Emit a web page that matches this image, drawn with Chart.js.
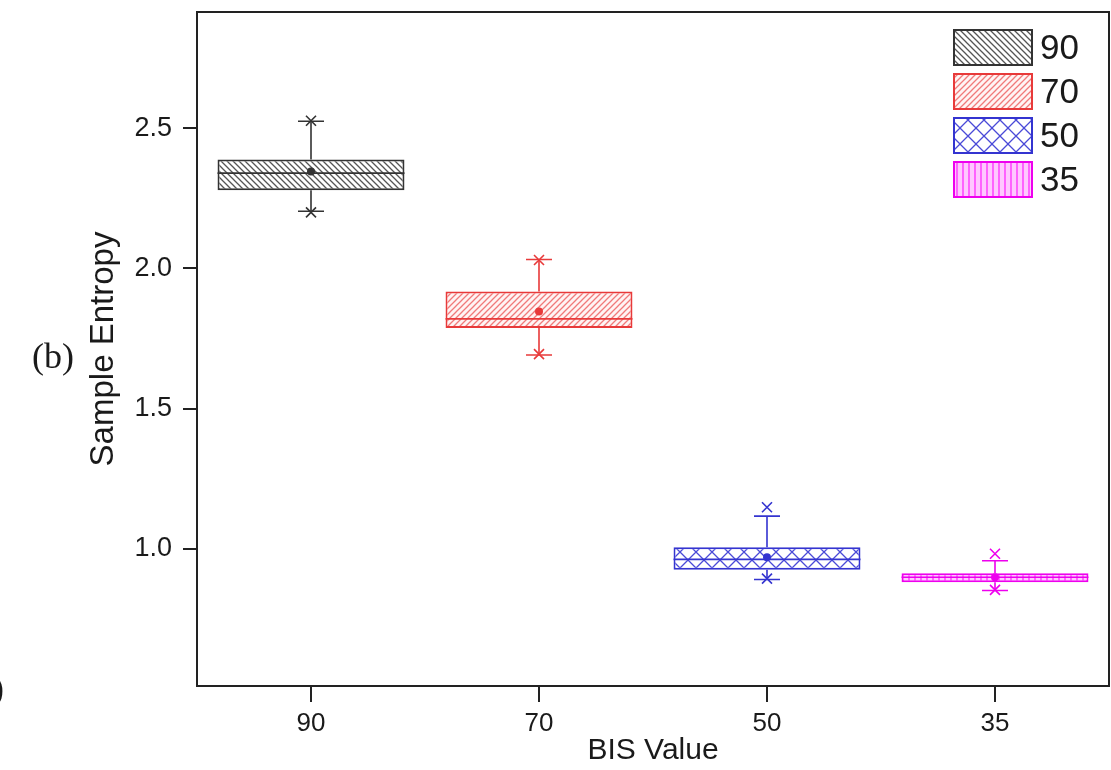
<!DOCTYPE html>
<html>
<head>
<meta charset="utf-8">
<script src="https://cdn.jsdelivr.net/npm/chart.js@4.4.1/dist/chart.umd.min.js"></script>
<style>
  html, body { margin: 0; padding: 0; background: #fff; }
  #wrap { width: 1111px; height: 770px; position: relative; }
</style>
</head>
<body>
<div id="wrap"><canvas id="boxChart" width="1111" height="770"></canvas></div>
<script>
// BIS groups
const categories = ['90', '70', '50', '35'];
// box statistics
const q1 = [2.279, 1.787, 0.925, 0.880];
const q3 = [2.389, 1.918, 1.005, 0.912];
const medians = [2.340, 1.820, 0.962, 0.898];
const means = [2.346, 1.846, 0.969, 0.898];
const whiskerLow = [2.204, 1.691, 0.890, 0.851];
const whiskerHigh = [2.525, 2.032, 1.116, 0.957];
const minMarks = [2.200, 1.694, 0.893, 0.853];
const maxMarks = [2.527, 2.030, 1.148, 0.982];
const yTicks = [1.0, 1.5, 2.0, 2.5];

const lineColors = ['#333333', '#e83a3a', '#3434d0', '#ee00ee'];
const hatchColors = ['#555555', '#f07a7a', '#4a4ad8', '#ff2cff'];
const hatchBg = ['#ffffff', '#fff4f4', '#ffffff', '#ffc8ff'];
const hatchKinds = ['back', 'fwd', 'cross', 'vert'];
const sansFont = 'Arial, "Liberation Sans", sans-serif';

// hatch fill patterns
function makePattern(kind, color, bg) {
  const s = kind === 'cross' ? 16 : 6;
  const c = document.createElement('canvas');
  c.width = s; c.height = s;
  const g = c.getContext('2d');
  g.fillStyle = bg;
  g.fillRect(0, 0, s, s);
  g.strokeStyle = color;
  g.lineWidth = 1.3;
  g.beginPath();
  if (kind === 'back' || kind === 'cross') {
    g.moveTo(-1, -1); g.lineTo(s + 1, s + 1);
    g.moveTo(-1, s - 1); g.lineTo(1, s + 1);
    g.moveTo(s - 1, -1); g.lineTo(s + 1, 1);
  }
  if (kind === 'fwd' || kind === 'cross') {
    g.moveTo(-1, s + 1); g.lineTo(s + 1, -1);
    g.moveTo(-1, 1); g.lineTo(1, -1);
    g.moveTo(s - 1, s + 1); g.lineTo(s + 1, s - 1);
  }
  if (kind === 'vert') {
    g.moveTo(s / 2, 0); g.lineTo(s / 2, s);
  }
  g.stroke();
  return g.createPattern(c, 'repeat');
}
const patterns = hatchKinds.map((k, i) => makePattern(k, hatchColors[i], hatchBg[i]));

const datasets = categories.map((cat, i) => ({
  label: cat,
  data: categories.map((c, j) => j === i ? [q1[i], q3[i]] : null),
  backgroundColor: patterns[i],
  borderColor: lineColors[i],
  borderWidth: 2,
  borderSkipped: false,
  barPercentage: 0.82,
  categoryPercentage: 1.0,
  grouped: false
}));

// whiskers, median lines, mean dots, extreme markers, frame, legend
const boxExtras = {
  id: 'boxExtras',
  afterDatasetsDraw(chart) {
    const ctx = chart.ctx;
    const xs = chart.scales.x;
    const ys = chart.scales.y;
    ctx.save();
    categories.forEach((cat, i) => {
      const bar = chart.getDatasetMeta(i).data[i];
      const cx = xs.getPixelForValue(i);
      const half = bar.width / 2;
      const col = lineColors[i];
      ctx.strokeStyle = col;
      ctx.fillStyle = col;
      ctx.lineWidth = 1.6;
      // median
      const ym = ys.getPixelForValue(medians[i]);
      ctx.beginPath();
      ctx.moveTo(cx - half, ym); ctx.lineTo(cx + half, ym);
      ctx.stroke();
      // whiskers
      const yTop = ys.getPixelForValue(q3[i]);
      const yBot = ys.getPixelForValue(q1[i]);
      const yHi = ys.getPixelForValue(whiskerHigh[i]);
      const yLo = ys.getPixelForValue(whiskerLow[i]);
      ctx.beginPath();
      ctx.moveTo(cx, yTop); ctx.lineTo(cx, yHi);
      ctx.moveTo(cx, yBot); ctx.lineTo(cx, yLo);
      ctx.moveTo(cx - 13, yHi); ctx.lineTo(cx + 13, yHi);
      ctx.moveTo(cx - 13, yLo); ctx.lineTo(cx + 13, yLo);
      ctx.stroke();
      // x markers at min and max
      [minMarks[i], maxMarks[i]].forEach(v => {
        const yv = ys.getPixelForValue(v);
        ctx.beginPath();
        ctx.moveTo(cx - 5, yv - 5); ctx.lineTo(cx + 5, yv + 5);
        ctx.moveTo(cx - 5, yv + 5); ctx.lineTo(cx + 5, yv - 5);
        ctx.stroke();
      });
      // mean
      ctx.beginPath();
      ctx.arc(cx, ys.getPixelForValue(means[i]), 4, 0, Math.PI * 2);
      ctx.fill();
    });
    ctx.restore();
  },
  afterDraw(chart) {
    const ctx = chart.ctx;
    const a = chart.chartArea;
    ctx.save();
    // frame
    ctx.strokeStyle = '#222';
    ctx.lineWidth = 2;
    ctx.strokeRect(a.left, a.top, a.right - a.left, a.bottom - a.top);
    // legend
    ctx.font = '35px ' + sansFont;
    ctx.textBaseline = 'middle';
    categories.forEach((cat, i) => {
      const y = 30 + i * 44;
      ctx.fillStyle = patterns[i];
      ctx.fillRect(954, y, 78, 35);
      ctx.strokeStyle = lineColors[i];
      ctx.lineWidth = 2;
      ctx.strokeRect(954, y, 78, 35);
      ctx.fillStyle = '#1a1a1a';
      ctx.fillText(cat, 1040, y + 19);
    });
    // panel label
    ctx.font = '36px "Times New Roman", "Liberation Serif", serif';
    ctx.textBaseline = 'alphabetic';
    ctx.fillStyle = '#1a1a1a';
    ctx.fillText('(b)', 32, 368);
    ctx.fillText(')', -8, 700);
    ctx.restore();
  }
};

new Chart(document.getElementById('boxChart').getContext('2d'), {
  type: 'bar',
  data: { labels: categories, datasets: datasets },
  options: {
    responsive: false,
    animation: false,
    layout: { padding: { left: 0, right: 2, top: 12, bottom: 0 } },
    plugins: {
      legend: { display: false },
      tooltip: { enabled: false }
    },
    scales: {
      x: {
        grid: { display: true, drawOnChartArea: false, drawTicks: true, tickLength: 16, offset: false, color: '#222', lineWidth: 2 },
        border: { display: false },
        ticks: { color: '#1a1a1a', font: { size: 26, family: sansFont }, padding: 6 },
        title: { display: true, text: 'BIS Value', color: '#1a1a1a', font: { size: 30, family: sansFont }, padding: { top: 0, bottom: 1 } },
        afterFit(scale) { scale.height = 84; scale.paddingLeft = 0; scale.paddingRight = 0; }
      },
      y: {
        min: 0.51,
        max: 2.915,
        grid: { display: true, drawOnChartArea: false, drawTicks: true, tickLength: 14, color: '#222', lineWidth: 2 },
        border: { display: false },
        afterBuildTicks(scale) { scale.ticks = yTicks.map(v => ({ value: v })); },
        ticks: {
          color: '#1a1a1a',
          font: { size: 27, family: sansFont },
          padding: 11,
          callback: v => Number(v).toFixed(1)
        },
        title: { display: true, text: 'Sample Entropy', color: '#1a1a1a', font: { size: 33, family: sansFont }, padding: { top: 84, bottom: 0 } },
        afterFit(scale) { scale.width = 197; scale.paddingTop = 0; scale.paddingBottom = 0; }
      }
    }
  },
  plugins: [boxExtras]
});
</script>
</body>
</html>
